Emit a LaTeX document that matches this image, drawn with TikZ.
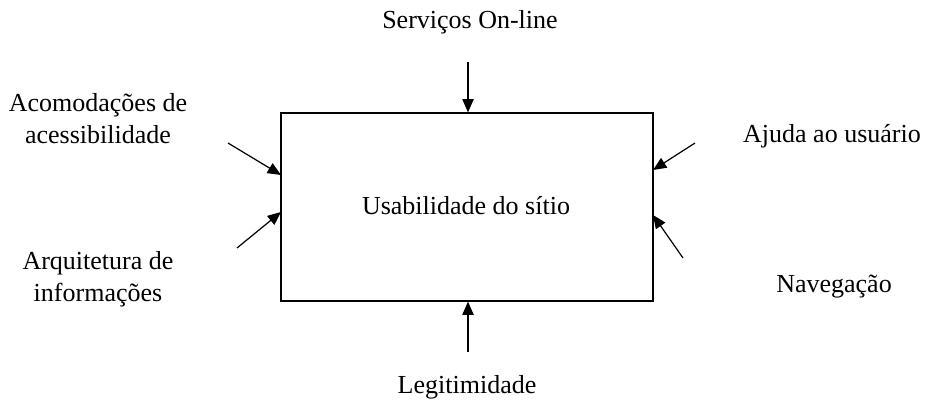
\documentclass[tikz,border=0pt]{standalone}
\usepackage{fontspec}
\setmainfont{Liberation Serif}
\usetikzlibrary{arrows.meta}
\begin{document}
\begin{tikzpicture}[x=0.75pt,y=-0.75pt,
  lbl/.style={font=\fontsize{19.5}{24}\selectfont, align=center, inner sep=0pt},
  arr/.style={-{Triangle[length=10pt,width=8.5pt]}, line width=0.9pt}]
\useasboundingbox (0,0) rectangle (929,406);
\node[draw, line width=0.9pt, minimum width=372*0.75pt, minimum height=188*0.75pt, inner sep=0pt] (box) at (467,207) {};
\node[lbl] (c) at (466,206) {Usabilidade do sítio};
\node[lbl] (s) at (470,22) {Serviços On-line};
\node[lbl] (acom) at (98,119) {Acomodações de\\acessibilidade};
\node[lbl] (arq) at (98,279) {Arquitetura de\\informações};
\node[lbl] (aj) at (832,136) {Ajuda ao usuário};
\node[lbl] (nav) at (834,287) {Navegação};
\node[lbl] (leg) at (467,387) {Legitimidade};
\coordinate (s0) at (468,62);
\coordinate (a0) at (228,143);
\coordinate (b0) at (237,248);
\coordinate (j0) at (695,143);
\coordinate (n0) at (683,258);
\coordinate (l0) at (468,352);
\draw[arr] (s0) -- (s0 |- box.north);
\draw[arr] (a0) -- (281,175);
\draw[arr] (b0) -- (281,212);
\draw[arr] (j0) -- (653,170);
\draw[arr] (n0) -- (653,215);
\draw[arr] (l0) -- (l0 |- box.south);
\end{tikzpicture}
\end{document}
